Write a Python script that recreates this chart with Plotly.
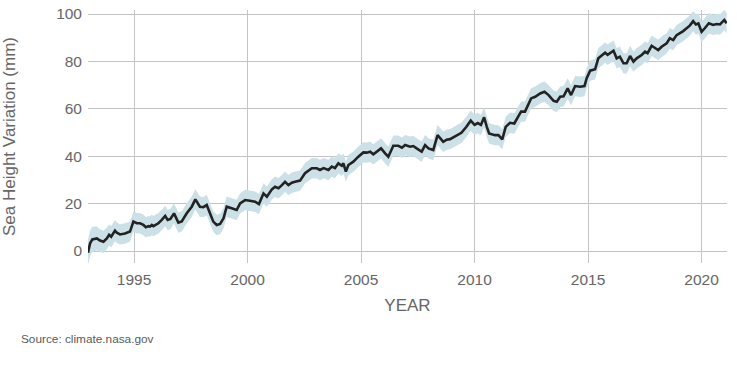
import plotly.graph_objects as go

years = [
    1992.97, 1993.06, 1993.16, 1993.36, 1993.50, 1993.65, 1993.80, 1993.90, 1993.99, 1994.16,
    1994.24, 1994.38, 1994.60, 1994.82, 1994.97, 1995.12, 1995.26, 1995.41, 1995.52, 1995.63,
    1995.70, 1995.78, 1995.85, 1996.07, 1996.22, 1996.37, 1996.48, 1996.60, 1996.76, 1996.95,
    1997.10, 1997.32, 1997.54, 1997.70, 1997.90, 1998.05, 1998.20, 1998.35, 1998.49, 1998.64,
    1998.79, 1998.94, 1999.08, 1999.30, 1999.52, 1999.67, 1999.89, 2000.10, 2000.33, 2000.50,
    2000.70, 2000.85, 2001.07, 2001.21, 2001.36, 2001.51, 2001.65, 2001.80, 2001.95, 2002.09,
    2002.31, 2002.53, 2002.70, 2002.83, 2003.05, 2003.19, 2003.35, 2003.56, 2003.71, 2003.85,
    2004.00, 2004.15, 2004.22, 2004.33, 2004.44, 2004.66, 2004.88, 2005.10, 2005.25, 2005.40,
    2005.54, 2005.70, 2005.88, 2006.06, 2006.20, 2006.42, 2006.64, 2006.80, 2006.94, 2007.16,
    2007.30, 2007.45, 2007.67, 2007.82, 2007.97, 2008.18, 2008.37, 2008.62, 2008.77, 2008.92,
    2009.06, 2009.20, 2009.42, 2009.64, 2009.83, 2010.00, 2010.14, 2010.28, 2010.42, 2010.54,
    2010.64, 2010.90, 2011.05, 2011.22, 2011.37, 2011.56, 2011.75, 2011.92, 2012.05, 2012.22,
    2012.37, 2012.49, 2012.67, 2012.89, 2013.08, 2013.26, 2013.48, 2013.62, 2013.77, 2013.92,
    2014.10, 2014.25, 2014.43, 2014.65, 2014.84, 2014.94, 2015.09, 2015.31, 2015.45, 2015.60,
    2015.75, 2015.86, 2015.97, 2016.12, 2016.26, 2016.40, 2016.56, 2016.70, 2016.85, 2017.00,
    2017.14, 2017.36, 2017.51, 2017.62, 2017.80, 2017.95, 2018.09, 2018.24, 2018.46, 2018.60,
    2018.75, 2018.90, 2019.04, 2019.19, 2019.34, 2019.48, 2019.63, 2019.75, 2019.86, 2020.00,
    2020.14, 2020.32, 2020.51, 2020.66, 2020.81, 2021.00, 2021.10,
]

sea_height_mm = [
    -0.7, 3.2, 4.9, 5.3, 4.4, 3.9, 5.3, 6.8, 6.0, 8.6,
    7.7, 7.0, 7.4, 8.2, 12.4, 11.7, 11.7, 11.0, 10.0, 10.5,
    10.3, 11.0, 10.5, 11.7, 13.1, 14.8, 13.1, 13.5, 15.9, 12.0,
    12.5, 15.9, 18.7, 21.8, 18.7, 18.5, 19.4, 15.9, 12.4, 11.0,
    11.4, 13.8, 18.7, 18.0, 17.3, 20.1, 21.5, 21.2, 20.8, 19.8,
    24.3, 22.9, 26.0, 27.1, 26.5, 27.8, 29.2, 27.8, 28.8, 29.2,
    29.7, 32.8, 34.0, 34.9, 34.9, 34.2, 35.0, 34.2, 35.6, 35.0,
    37.0, 36.0, 37.0, 33.5, 36.3, 37.7, 39.8, 41.6, 41.5, 41.9,
    40.8, 41.9, 43.3, 41.2, 39.8, 44.4, 44.4, 43.6, 44.7, 44.0,
    44.3, 43.3, 41.9, 44.7, 43.3, 42.6, 48.9, 46.1, 47.0, 47.2,
    48.0, 48.9, 49.9, 52.4, 55.0, 53.2, 54.0, 53.2, 56.4, 52.4,
    49.6, 48.9, 48.9, 47.1, 52.4, 54.1, 53.8, 56.7, 58.8, 58.8,
    61.6, 64.4, 65.1, 66.5, 67.2, 65.8, 63.4, 63.0, 65.1, 65.3,
    68.6, 65.8, 69.6, 69.3, 69.6, 72.9, 76.1, 76.7, 81.3, 82.7,
    83.7, 82.8, 83.4, 84.5, 81.3, 82.0, 79.2, 79.2, 82.3, 79.9,
    81.3, 82.7, 84.1, 83.5, 86.6, 85.8, 84.8, 86.2, 87.6, 89.8,
    89.0, 91.1, 91.8, 92.8, 94.0, 95.1, 97.0, 95.6, 96.0, 92.5,
    94.0, 96.1, 95.4, 95.8, 95.6, 97.5, 96.1,
]

uncertainty_mm = [
    5.5, 5.5, 5.3, 5.0, 4.8, 4.7, 4.6, 4.5, 4.5, 4.5,
    4.3, 4.3, 4.3, 4.3, 4.3, 4.3, 4.3, 4.3, 4.3, 4.3,
    4.3, 4.3, 4.3, 4.3, 4.3, 4.3, 4.3, 4.3, 4.3, 4.3,
    4.3, 4.3, 4.3, 4.3, 4.3, 4.3, 4.3, 4.3, 4.3, 4.3,
    4.3, 4.3, 4.3, 4.3, 4.3, 4.3, 4.3, 4.3, 4.3, 4.3,
    4.3, 4.3, 4.3, 4.3, 4.3, 4.3, 4.3, 4.3, 4.3, 4.3,
    4.3, 4.3, 4.3, 4.3, 4.3, 4.3, 4.3, 4.3, 4.3, 4.3,
    4.3, 4.3, 4.3, 4.3, 4.3, 4.3, 4.3, 4.3, 4.3, 4.3,
    4.3, 4.3, 4.3, 4.3, 4.3, 4.3, 4.3, 4.3, 4.3, 4.3,
    4.3, 4.3, 4.3, 4.3, 4.3, 4.3, 4.3, 4.3, 4.3, 4.3,
    4.3, 4.3, 4.3, 4.3, 4.3, 4.3, 4.3, 4.3, 4.3, 4.3,
    4.3, 4.3, 4.3, 4.3, 4.3, 4.3, 4.3, 4.3, 4.3, 4.3,
    4.3, 4.3, 4.3, 4.3, 4.3, 4.3, 4.3, 4.3, 4.3, 4.3,
    4.3, 4.3, 4.3, 4.3, 4.3, 4.3, 4.3, 4.3, 4.3, 4.3,
    4.3, 4.3, 4.3, 4.3, 4.3, 4.3, 4.3, 4.3, 4.3, 4.3,
    4.3, 4.3, 4.3, 4.3, 4.3, 4.3, 4.3, 4.3, 4.3, 4.3,
    4.3, 4.3, 4.3, 4.3, 4.3, 4.3, 4.3, 4.3, 4.3, 4.3,
    4.3, 4.3, 4.3, 4.3, 4.3, 4.3, 4.3,
]

x_tick_vals = [1995, 2000, 2005, 2010, 2015, 2020]
y_tick_vals = [0, 20, 40, 60, 80, 100]

upper = [v + u for v, u in zip(sea_height_mm, uncertainty_mm)]
lower = [v - u for v, u in zip(sea_height_mm, uncertainty_mm)]

FONT = "Liberation Sans, Arial, sans-serif"
TEXT = "#666666"
GRID = "#c4c4c4"

fig = go.Figure()
fig.add_trace(go.Scatter(x=years, y=upper, mode="lines", line=dict(width=0),
                         hoverinfo="skip", showlegend=False))
fig.add_trace(go.Scatter(x=years, y=lower, mode="lines", line=dict(width=0),
                         fill="tonexty", fillcolor="rgb(204,224,231)",
                         hoverinfo="skip", showlegend=False))
fig.add_trace(go.Scatter(x=years, y=sea_height_mm, mode="lines",
                         line=dict(color="#222222", width=2.6),
                         showlegend=False))

fig.update_layout(
    width=737, height=365,
    margin=dict(l=88, r=10, t=10, b=102, autoexpand=False),
    paper_bgcolor="white", plot_bgcolor="white",
    font=dict(family=FONT, color=TEXT),
    xaxis=dict(range=[1992.97, 2021.12], tickvals=x_tick_vals,
               showgrid=True, gridcolor=GRID, gridwidth=1, zeroline=False,
               showline=False, ticks="", ticklabelstandoff=5,
               ticklabeloverflow="allow",
               tickfont=dict(size=15.5, color=TEXT),
               title=dict(text="YEAR", font=dict(size=17, color=TEXT), standoff=12),
               automargin=False),
    yaxis=dict(range=[-5.06, 101.7], tickvals=y_tick_vals,
               showgrid=True, gridcolor=GRID, gridwidth=1, zeroline=False,
               showline=False, ticks="", ticklabelstandoff=5,
               ticklabeloverflow="allow",
               tickfont=dict(size=15.5, color=TEXT),
               title=dict(text="Sea Height Variation (mm)", font=dict(size=17, color=TEXT),
                          standoff=46),
               automargin=False),
    annotations=[dict(text="Source: climate.nasa.gov", xref="paper", yref="paper",
                      x=(19 - 88) / 639, y=(263 - 339) / 253, xanchor="left",
                      yanchor="middle", showarrow=False,
                      font=dict(size=11.8, color="#5a5a5a", family=FONT))],
)

# remove the browser's default 8px body margin so the figure sits at (0, 0)
fig.write_html("out.html", config={"displayModeBar": False},
               post_script="document.body.style.margin='0px';")
